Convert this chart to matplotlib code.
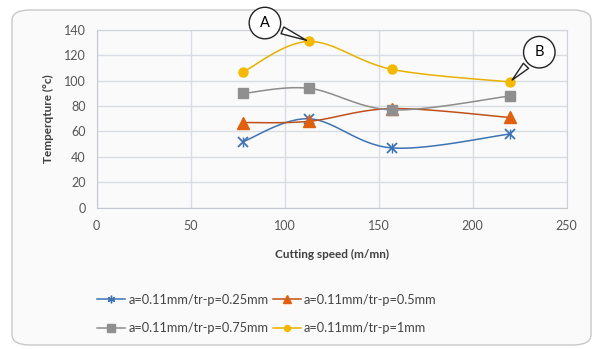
"""Cutting temperature vs cutting speed, four pass depths (Excel-style smoothed lines)."""
import matplotlib
matplotlib.use("Agg")
import matplotlib.pyplot as plt
import numpy as np
from matplotlib.patches import FancyBboxPatch

plt.rcParams["font.family"] = ["Lato", "DejaVu Sans"]

speed = [78, 113, 157, 220]
temp_025 = [52, 70, 47, 58]
temp_05 = [67, 68, 78, 71]
temp_075 = [90, 94, 77, 88]
temp_1 = [107, 131, 109, 99]
labels = ["a=0.11mm/tr-p=0.25mm", "a=0.11mm/tr-p=0.5mm",
          "a=0.11mm/tr-p=0.75mm", "a=0.11mm/tr-p=1mm"]


def smooth(x, y, n=30):
    # catmull-rom bezier, like excel's "smoothed line"
    x = np.asarray(x, float)
    y = np.asarray(y, float)
    px = np.concatenate([[x[0]], x, [x[-1]]])
    py = np.concatenate([[y[0]], y, [y[-1]]])
    xs, ys = [], []
    t = np.linspace(0, 1, n)
    for i in range(1, len(x)):
        p0 = np.array([px[i], py[i]])
        p3 = np.array([px[i + 1], py[i + 1]])
        c1 = p0 + (p3 - np.array([px[i - 1], py[i - 1]])) / 6
        c2 = p3 - (np.array([px[i + 2], py[i + 2]]) - p0) / 6
        pts = ((1 - t) ** 3)[:, None] * p0 + (3 * (1 - t) ** 2 * t)[:, None] * c1 \
            + (3 * (1 - t) * t ** 2)[:, None] * c2 + (t ** 3)[:, None] * p3
        xs.extend(pts[:, 0])
        ys.extend(pts[:, 1])
    return xs, ys


fig = plt.figure(figsize=(5.97, 3.49), dpi=100)
fig.patch.set_facecolor("white")
frame = FancyBboxPatch((12 / 597, 4 / 349), 579 / 597, 335 / 349,
                       boxstyle="round,pad=0,rounding_size=0.03",
                       transform=fig.transFigure, fc="#fafafa", ec="#c8c8c8",
                       lw=1.0, zorder=-5)
fig.add_artist(frame)

ax = fig.add_axes([0.162, 0.4054, 0.787, 0.5086], zorder=2)
ax.set_facecolor("#fafafa")

series = [
    (temp_025, "#3d72b4", "x", "#3d72b4", 7),
    (temp_05, "#c0501a", "^", "#e0600f", 8),
    (temp_075, "#8c8c8c", "s", "#8f8f8f", 7.5),
    (temp_1, "#e8b000", "o", "#f5b800", 6.5),
]
handles = []
for (y, col, mk, mcol, ms), lab in zip(series, labels):
    sx, sy = smooth(speed, y)
    ax.plot(sx, sy, color=col, lw=1.1, zorder=3)
    if mk == "x":
        ax.plot(speed, y, ls="none", marker="x", ms=ms, mew=1.3, color=mcol, zorder=4)
        ax.plot(speed, y, ls="none", marker="|", ms=ms, mew=1.0, color=mcol, zorder=4)
        h, = ax.plot([], [], color=col, lw=1.1, marker=(6, 2, 0), ms=5.5, mec=mcol, mew=1.0)
    else:
        ax.plot(speed, y, ls="none", marker=mk, ms=ms, color=mcol, mec=mcol, zorder=4)
        h, = ax.plot([], [], color=col, lw=1.1, marker=mk, ms=ms - 2.2,
                     mfc=mcol, mec=mcol)
    h.set_label(lab)
    handles.append(h)

ax.set_xlim(0, 250)
ax.set_ylim(0, 140)
ax.set_xticks(range(0, 251, 50))
ax.set_yticks(range(0, 141, 20))
ax.grid(True, color="#d9dde3", lw=1.0, zorder=1)
ax.set_axisbelow(True)
for s in ax.spines.values():
    s.set_color("#d0d4da")
ax.spines["left"].set_color("#c4c9d0")
ax.spines["bottom"].set_color("#c4c9d0")
ax.tick_params(length=0, labelsize=9, colors="#555555", pad=9)
ax.tick_params(axis="y", pad=8)
ax.set_xlabel("Cutting speed (m/mn)", fontsize=8.5, fontweight="bold", color="#404040", labelpad=12)
ax.set_ylabel("Temperqture (°c)", fontsize=8.5, fontweight="bold", color="#404040", labelpad=7)

# callout bubbles
bub = dict(boxstyle="circle,pad=0.6", fc="white", ec="#222222", lw=1.0)
arr = dict(arrowstyle="wedge,tail_width=0.5,shrink_factor=0.5", fc="white", ec="#222222", lw=1.0)
ax.annotate("A", xy=(speed[1], temp_1[1]), xytext=(89.5, 145.5), fontsize=10.5,
            ha="center", va="center", bbox=bub, arrowprops=arr, annotation_clip=False, zorder=6)
ax.annotate("B", xy=(speed[3], temp_1[3]), xytext=(235.5, 122.5), fontsize=10.5,
            ha="center", va="center", bbox=bub, arrowprops=arr, annotation_clip=False, zorder=6)

# legend fills column-wise, reorder so rows read like the original
order = [handles[0], handles[2], handles[1], handles[3]]
fig.legend(handles=order, loc="center", bbox_to_anchor=(0.447, 0.10), ncol=2,
           frameon=False, fontsize=9.2, handlelength=2.2, handletextpad=0.25,
           columnspacing=0.3, labelspacing=1.3, labelcolor="#444444")

fig.savefig("out.png", dpi=100)
